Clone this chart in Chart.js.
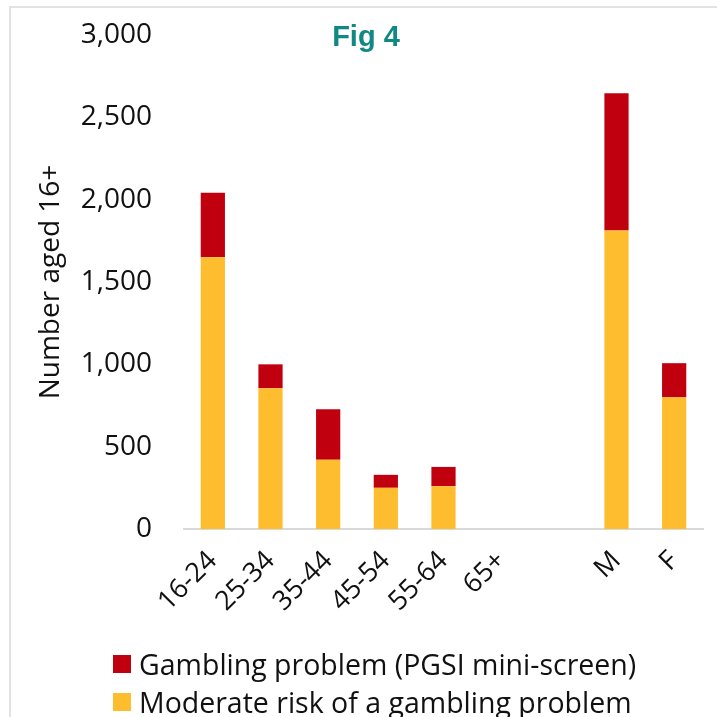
<!DOCTYPE html>
<html>
<head>
<meta charset="utf-8">
<script src="https://cdn.jsdelivr.net/npm/chart.js@4"></script>
<style>
  body { margin: 0; background: #fff; }
  #frame { position: absolute; left: 9px; top: 6px; width: 720px; height: 720px;
           border-left: 2px solid #e2e2e2; border-top: 2px solid #e2e2e2; }
  #wrap { position: absolute; left: 0; top: 0; width: 717px; height: 717px; }
  #title { position: absolute; left: 266px; width: 200px; top: 20px; text-align: center;
           font: bold 29px "Liberation Sans", Arial, sans-serif; color: #108883; }
  #legend { position: absolute; left: 113px; top: 645px; font: 28.5px "Open Sans", sans-serif; color: #111; }
  .item { height: 38px; display: flex; align-items: center; }
  .box { width: 18px; height: 18px; margin-right: 8px; }
</style>
</head>
<body>
<div id="frame"></div>
<div id="wrap"><canvas id="chart" width="717" height="717"></canvas></div>
<div id="title">Fig 4</div>
<div id="legend"></div>
<script>
// categories (blank one is the gap between age and sex groups)
const categories = ['16-24', '25-34', '35-44', '45-54', '55-64', '65+', '', 'M', 'F'];
const moderateRisk = [1650, 855, 420, 250, 260, 0, null, 1812, 800];
const gamblingProblem = [392, 145, 307, 79, 117, 0, null, 834, 207];
const yTicks = [0, 500, 1000, 1500, 2000, 2500, 3000];

const RED = '#c0000f';
const ORANGE = '#fdbd2e';
const FONT = 'Open Sans';

const datasets = [
    { label: 'Moderate risk of a gambling problem', data: moderateRisk, backgroundColor: ORANGE },
    { label: 'Gambling problem (PGSI mini-screen)', data: gamblingProblem, backgroundColor: RED }
];

// legend, top item first as in the figure
document.getElementById('legend').innerHTML = datasets.slice().reverse().map(d => `
  <div class="item"><span class="box" style="background:${d.backgroundColor}"></span>${d.label}</div>
`).join('');

new Chart(document.getElementById('chart'), {
    type: 'bar',
    data: {
        labels: categories,
        datasets: datasets.map(d => ({ ...d, barPercentage: 0.42, categoryPercentage: 1 }))
    },
    options: {
        responsive: false,
        animation: false,
        layout: { padding: { left: 34, top: 35, right: 14, bottom: 0 } },
        plugins: {
            legend: { display: false },
            tooltip: { enabled: false }
        },
        scales: {
            x: {
                stacked: true,
                grid: { display: false },
                border: { color: '#d9d9d9', width: 2 },
                ticks: {
                    color: '#111',
                    font: { family: FONT, size: 27 },
                    minRotation: 45, maxRotation: 45,
                    padding: 8
                },
                afterFit: s => { s.height = 188; }
            },
            y: {
                stacked: true,
                min: 0, max: 3000,
                afterBuildTicks: s => { s.ticks = yTicks.map(v => ({ value: v })); },
                // grid hidden; tickLength only spaces the labels from the plot
                grid: { display: false, drawTicks: true, tickLength: 28 },
                border: { display: false },
                ticks: {
                    color: '#111',
                    font: { family: FONT, size: 28 },
                    padding: 4,
                    callback: v => v.toLocaleString('en-US')
                },
                title: {
                    display: true,
                    text: 'Number aged 16+',
                    color: '#111',
                    font: { family: FONT, size: 28 },
                    padding: 0
                },
                afterFit: s => { s.width = 150; }
            }
        }
    }
});
</script>
</body>
</html>
